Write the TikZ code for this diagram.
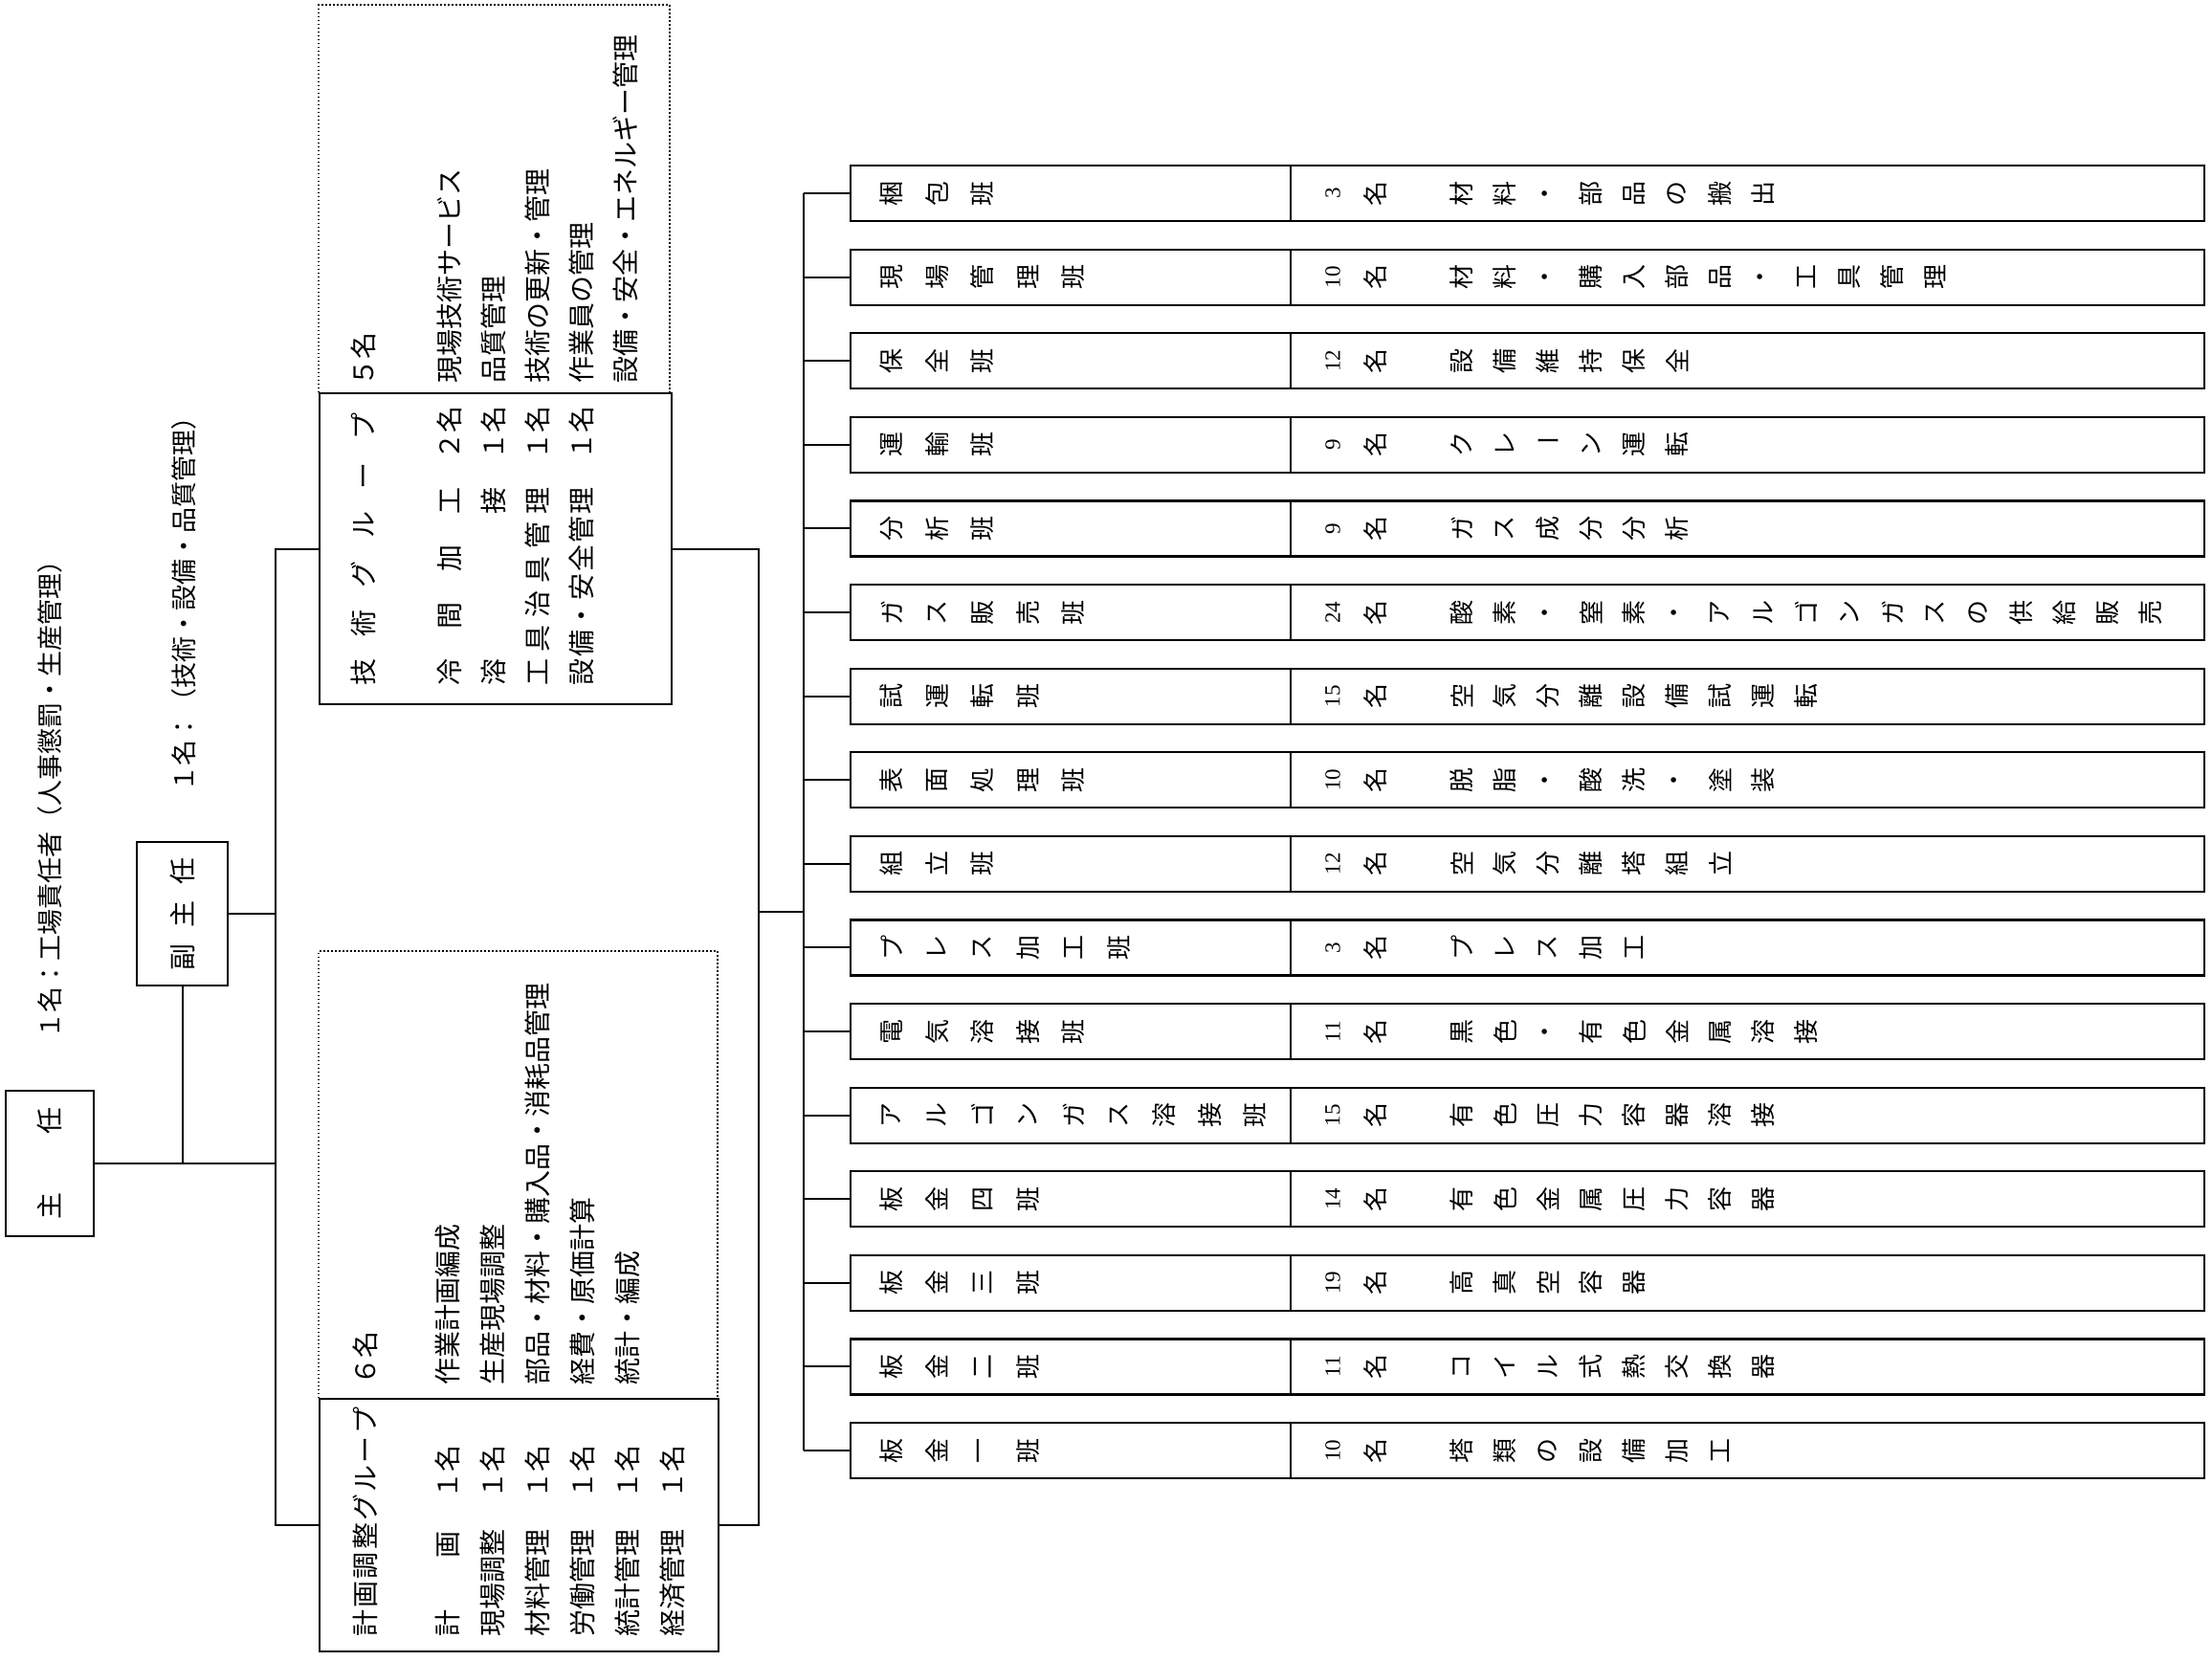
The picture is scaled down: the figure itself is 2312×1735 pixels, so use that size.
\documentclass[tikz,border=0pt]{standalone}
\usepackage{fontspec}
\usepackage{graphicx}
\setmainfont{Noto Sans CJK JP}
\newfontfamily\numfont{Liberation Serif}
\tikzset{
  bx/.style={draw, line width=2.2pt, inner sep=0pt},
  dotbox/.style={line width=1.5pt, dash pattern=on 1.5pt off 2.5pt},
  txt/.style={rotate=90, anchor=west, inner sep=0pt, font=\fontsize{28}{30}\selectfont},
  ch/.style={rotate=90, inner sep=0pt, font=\fontsize{26}{28}\selectfont},
  num/.style={rotate=90, inner sep=0pt, font=\numfont\fontsize{23}{25}\selectfont},
  conn/.style={line width=2pt},
}
\newcommand\myrow[4]{%
  \pgfmathsetmacro\yc{202+87.6*#1}
  \node[bx, minimum width=460pt, minimum height=58pt, anchor=west] (L#1) at (888,\yc) {};
  \node[bx, minimum width=955pt, minimum height=58pt, anchor=west] (R#1) at (1348,\yc) {};
  \draw[conn] (bus2 |- L#1.west) -- (L#1.west);
  \foreach \c [count=\i] in {#2} {\node[ch] at ({932+47.5*(\i-1)},\yc) {\c};}
  \node[num] at (1393,\yc) {#3};
  \node[ch] at (1438,\yc) {名};
  \foreach \c [count=\i] in {#4} {\node[ch] at ({1393+45*(\i+2)},\yc) {\c};}
}
\begin{document}
\begin{tikzpicture}[x=1pt,y=-1pt]
\useasboundingbox (0,0) rectangle (2312,1735);

% chief and deputy
\node[bx, minimum width=92pt, minimum height=152pt] (shunin) at (52,1216)
  {\rotatebox{90}{\fontsize{28}{30}\selectfont\makebox[117pt][s]{主\hfill 任}}};
\node[bx, minimum width=95pt, minimum height=150pt] (fuku) at (190.5,955)
  {\rotatebox{90}{\fontsize{28}{30}\selectfont\makebox[118pt][s]{副\hfill 主\hfill 任}}};
\node[txt, font=\fontsize{27}{29}\selectfont] (t1) at (52,1086) {１名：工場責任者（人事懲罰・生産管理）};
\node[txt, font=\fontsize{27}{29}\selectfont] (t2) at (192,828) {１名：（技術・設備・品質管理）};

% technical group
\draw[dotbox] (333,410) -- (333,5) -- (700,5) -- (700,410);
\node[bx, minimum width=368pt, minimum height=325pt, anchor=north west] (gijutsu) at (333,410) {};
\node[txt] at (380,717) {\makebox[285pt][s]{技\hfill 術\hfill グ\hfill ル\hfill ー\hfill プ}};
\node[txt] at (380,404) {５名};
\node[txt] at (470,717) {\makebox[207pt][s]{冷\hfill 間\hfill 加\hfill 工}};
\node[txt] at (516,717) {\makebox[207pt][s]{溶\hfill 接}};
\node[txt] at (562,717) {\makebox[207pt][s]{工\hfill 具\hfill 治\hfill 具\hfill 管\hfill 理}};
\node[txt] at (608,717) {\makebox[207pt][s]{設\hfill 備\hfill ・\hfill 安\hfill 全\hfill 管\hfill 理}};
\node[txt] at (470,481) {２名};
\node[txt] at (516,481) {１名};
\node[txt] at (562,481) {１名};
\node[txt] at (608,481) {１名};
\node[txt] at (470,401) {現場技術サービス};
\node[txt] at (516,401) {品質管理};
\node[txt] at (562,401) {技術の更新・管理};
\node[txt] at (608,401) {作業員の管理};
\node[txt] at (654,401) {設備・安全・エネルギー管理};

% planning group
\draw[dotbox] (333,1461) -- (333,994) -- (750,994) -- (750,1461);
\node[bx, minimum width=417pt, minimum height=264pt, anchor=north west] (keikaku) at (333,1461) {};
\node[txt] at (382,1711) {\makebox[240pt][s]{計\hfill 画\hfill 調\hfill 整\hfill グ\hfill ル\hfill ー\hfill プ}};
\node[txt] at (382,1448) {６名};
\node[txt] at (468,1711) {\makebox[110pt][s]{計\hfill 画}};
\node[txt] at (515,1711) {\makebox[110pt][s]{現\hfill 場\hfill 調\hfill 整}};
\node[txt] at (562,1711) {\makebox[110pt][s]{材\hfill 料\hfill 管\hfill 理}};
\node[txt] at (609,1711) {\makebox[110pt][s]{労\hfill 働\hfill 管\hfill 理}};
\node[txt] at (656,1711) {\makebox[110pt][s]{統\hfill 計\hfill 管\hfill 理}};
\node[txt] at (703,1711) {\makebox[110pt][s]{経\hfill 済\hfill 管\hfill 理}};
\foreach \xx in {468,515,562,609,656,703} {\node[txt] at (\xx,1567) {１名};}
\node[txt] at (468,1448) {作業計画編成};
\node[txt] at (515,1448) {生産現場調整};
\node[txt] at (562,1448) {部品・材料・購入品・消耗品管理};
\node[txt] at (609,1448) {経費・原価計算};
\node[txt] at (656,1448) {統計・編成};

% left connectors
\coordinate (lb) at (288,0);
\draw[conn] (gijutsu.west) -- (gijutsu.west -| lb) -- (keikaku.west -| lb) -- (keikaku.west);
\draw[conn] (shunin.east) -- (shunin.east -| lb);
\draw[conn] (fuku.east) -- (fuku.east -| lb);
\draw[conn] (fuku.south) -- (fuku.south |- shunin.east);

% right connectors
\coordinate (rb) at (793,0);
\coordinate (bus2) at (840,0);
\coordinate (rj) at (793,953);
\draw[conn] (gijutsu.east) -- (gijutsu.east -| rb) -- (keikaku.east -| rb) -- (keikaku.east);
\draw[conn] (rj) -- (rj -| bus2);

% sections
\myrow{0}{梱,包,班}{3}{材,料,・,部,品,の,搬,出}
\myrow{1}{現,場,管,理,班}{10}{材,料,・,購,入,部,品,・,工,具,管,理}
\myrow{2}{保,全,班}{12}{設,備,維,持,保,全}
\myrow{3}{運,輸,班}{9}{ク,レ,{\rotatebox{-90}{ー}},ン,運,転}
\myrow{4}{分,析,班}{9}{ガ,ス,成,分,分,析}
\myrow{5}{ガ,ス,販,売,班}{24}{酸,素,・,窒,素,・,ア,ル,ゴ,ン,ガ,ス,の,供,給,販,売}
\myrow{6}{試,運,転,班}{15}{空,気,分,離,設,備,試,運,転}
\myrow{7}{表,面,処,理,班}{10}{脱,脂,・,酸,洗,・,塗,装}
\myrow{8}{組,立,班}{12}{空,気,分,離,塔,組,立}
\myrow{9}{プ,レ,ス,加,工,班}{3}{プ,レ,ス,加,工}
\myrow{10}{電,気,溶,接,班}{11}{黒,色,・,有,色,金,属,溶,接}
\myrow{11}{ア,ル,ゴ,ン,ガ,ス,溶,接,班}{15}{有,色,圧,力,容,器,溶,接}
\myrow{12}{板,金,四,班}{14}{有,色,金,属,圧,力,容,器}
\myrow{13}{板,金,三,班}{19}{高,真,空,容,器}
\myrow{14}{板,金,二,班}{11}{コ,イ,ル,式,熱,交,換,器}
\myrow{15}{板,金,一,班}{10}{塔,類,の,設,備,加,工}
\draw[conn] (bus2 |- L0.west) -- (bus2 |- L15.west);
\end{tikzpicture}
\end{document}
